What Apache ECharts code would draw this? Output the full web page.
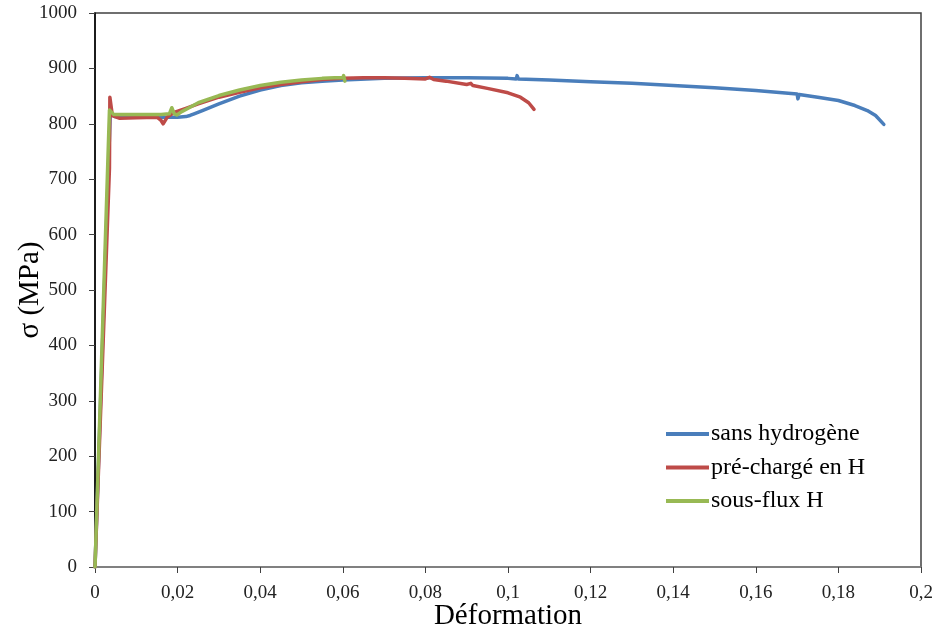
<!DOCTYPE html>
<html>
<head>
<meta charset="utf-8">
<script src="https://cdn.jsdelivr.net/npm/echarts@6/dist/echarts.min.js"></script>
<style>html,body{margin:0;padding:0;background:#fff}#c{width:936px;height:630px}</style>
</head>
<body>
<div id="c"></div>
<script>
const seriesNames = ['sans hydrogène', 'pré-chargé en H', 'sous-flux H'];
const xTicks = [0, 0.02, 0.04, 0.06, 0.08, 0.1, 0.12, 0.14, 0.16, 0.18, 0.2];
const yTicks = [0, 100, 200, 300, 400, 500, 600, 700, 800, 900, 1000];

const blueX = [0, 0.0037, 0.0047, 0.01, 0.015, 0.02, 0.022, 0.023, 0.024, 0.026, 0.03, 0.035, 0.04, 0.045, 0.05, 0.055, 0.06, 0.07, 0.08, 0.09, 0.1, 0.102, 0.1022, 0.1025, 0.11, 0.12, 0.13, 0.14, 0.15, 0.16, 0.17, 0.1702, 0.1705, 0.175, 0.18, 0.184, 0.187, 0.189, 0.191];
const blueY = [0, 820, 813, 812, 812, 812, 813, 815, 818, 824, 836, 850, 861, 869, 874, 877, 879, 882, 883, 883, 882, 881, 887, 881, 879, 876, 873, 869, 865, 860, 854, 845, 853, 848, 842, 833, 824, 815, 799];

const redX = [0, 0.0035, 0.0036, 0.0042, 0.006, 0.01, 0.015, 0.016, 0.0165, 0.0175, 0.019, 0.022, 0.025, 0.03, 0.035, 0.04, 0.045, 0.05, 0.055, 0.06, 0.065, 0.07, 0.075, 0.08, 0.081, 0.082, 0.085, 0.09, 0.091, 0.0915, 0.095, 0.1, 0.103, 0.105, 0.1063];
const redY = [0, 720, 848, 815, 810, 811, 812, 806, 800, 812, 820, 828, 836, 848, 857, 865, 871, 876, 880, 882, 883, 883, 882, 881, 884, 880, 877, 871, 873, 869, 864, 856, 848, 838, 826];

const greenX = [0, 0.0035, 0.0045, 0.008, 0.012, 0.016, 0.018, 0.0186, 0.0192, 0.0198, 0.021, 0.023, 0.025, 0.03, 0.035, 0.04, 0.045, 0.05, 0.055, 0.058, 0.06, 0.0602, 0.0605];
const greenY = [0, 825, 817, 817, 817, 817, 818, 829, 818, 816, 822, 830, 838, 851, 861, 869, 875, 879, 882, 883, 883, 887, 877];

const colors = ['#4A7EBB', '#BE4B48', '#98B954'];
const zip = (xs, ys) => xs.map((x, i) => [x, ys[i]]);
const dataSets = [zip(blueX, blueY), zip(redX, redY), zip(greenX, greenY)];

const font = '"Liberation Serif", "Times New Roman", serif';
const chart = echarts.init(document.getElementById('c'), null, {renderer: 'canvas'});
chart.setOption({
  animation: false,
  backgroundColor: '#fff',
  grid: {left: 95, right: 15, top: 13, bottom: 63, containLabel: false, outerBoundsMode: 'none',
    show: true, borderColor: '#404040', borderWidth: 1.5, backgroundColor: 'transparent'},
  legend: {
    orient: 'vertical', left: 661, top: 417, itemWidth: 43, itemHeight: 4, itemGap: 9.5,
    icon: 'rect',
    textStyle: {fontFamily: font, fontSize: 24, color: '#000', padding: [0, 0, 0, -3]},
    data: seriesNames
  },
  xAxis: {
    type: 'value', min: 0, max: 0.2, interval: 0.02,
    name: 'Déformation', nameLocation: 'middle', nameGap: 35, nameMoveOverlap: false,
    nameTextStyle: {fontFamily: font, fontSize: 29, color: '#000'},
    axisLine: {lineStyle: {color: '#868686', width: 1.5}},
    axisTick: {show: true, inside: false, length: 6, lineStyle: {color: '#404040'}},
    splitLine: {show: false},
    axisLabel: {fontFamily: font, fontSize: 19, color: '#222', margin: 17,
      formatter: v => { const t = xTicks.find(k => Math.abs(k - v) < 1e-9); return String(t !== undefined ? +t.toFixed(2) : +v.toFixed(2)).replace('.', ','); }}
  },
  yAxis: {
    type: 'value', min: 0, max: 1000, interval: 100,
    name: 'σ (MPa)', nameLocation: 'middle', nameGap: 50, nameMoveOverlap: false,
    nameTextStyle: {fontFamily: font, fontSize: 29, color: '#000'},
    axisLine: {show: true, lineStyle: {color: '#000', width: 1.5}},
    axisTick: {show: true, inside: false, length: 6, lineStyle: {color: '#404040'}},
    splitLine: {show: false},
    axisLabel: {fontFamily: font, fontSize: 19, color: '#222', margin: 18,
      formatter: v => String(yTicks.find(k => k === v) ?? v)}
  },
  series: dataSets.map((d, i) => ({
    name: seriesNames[i], type: 'line', data: d, showSymbol: false, symbol: 'none',
    lineStyle: {color: colors[i], width: 3.5, cap: 'round', join: 'round'},
    itemStyle: {color: colors[i]}, z: 2 + i
  }))
});
</script>
</body>
</html>
